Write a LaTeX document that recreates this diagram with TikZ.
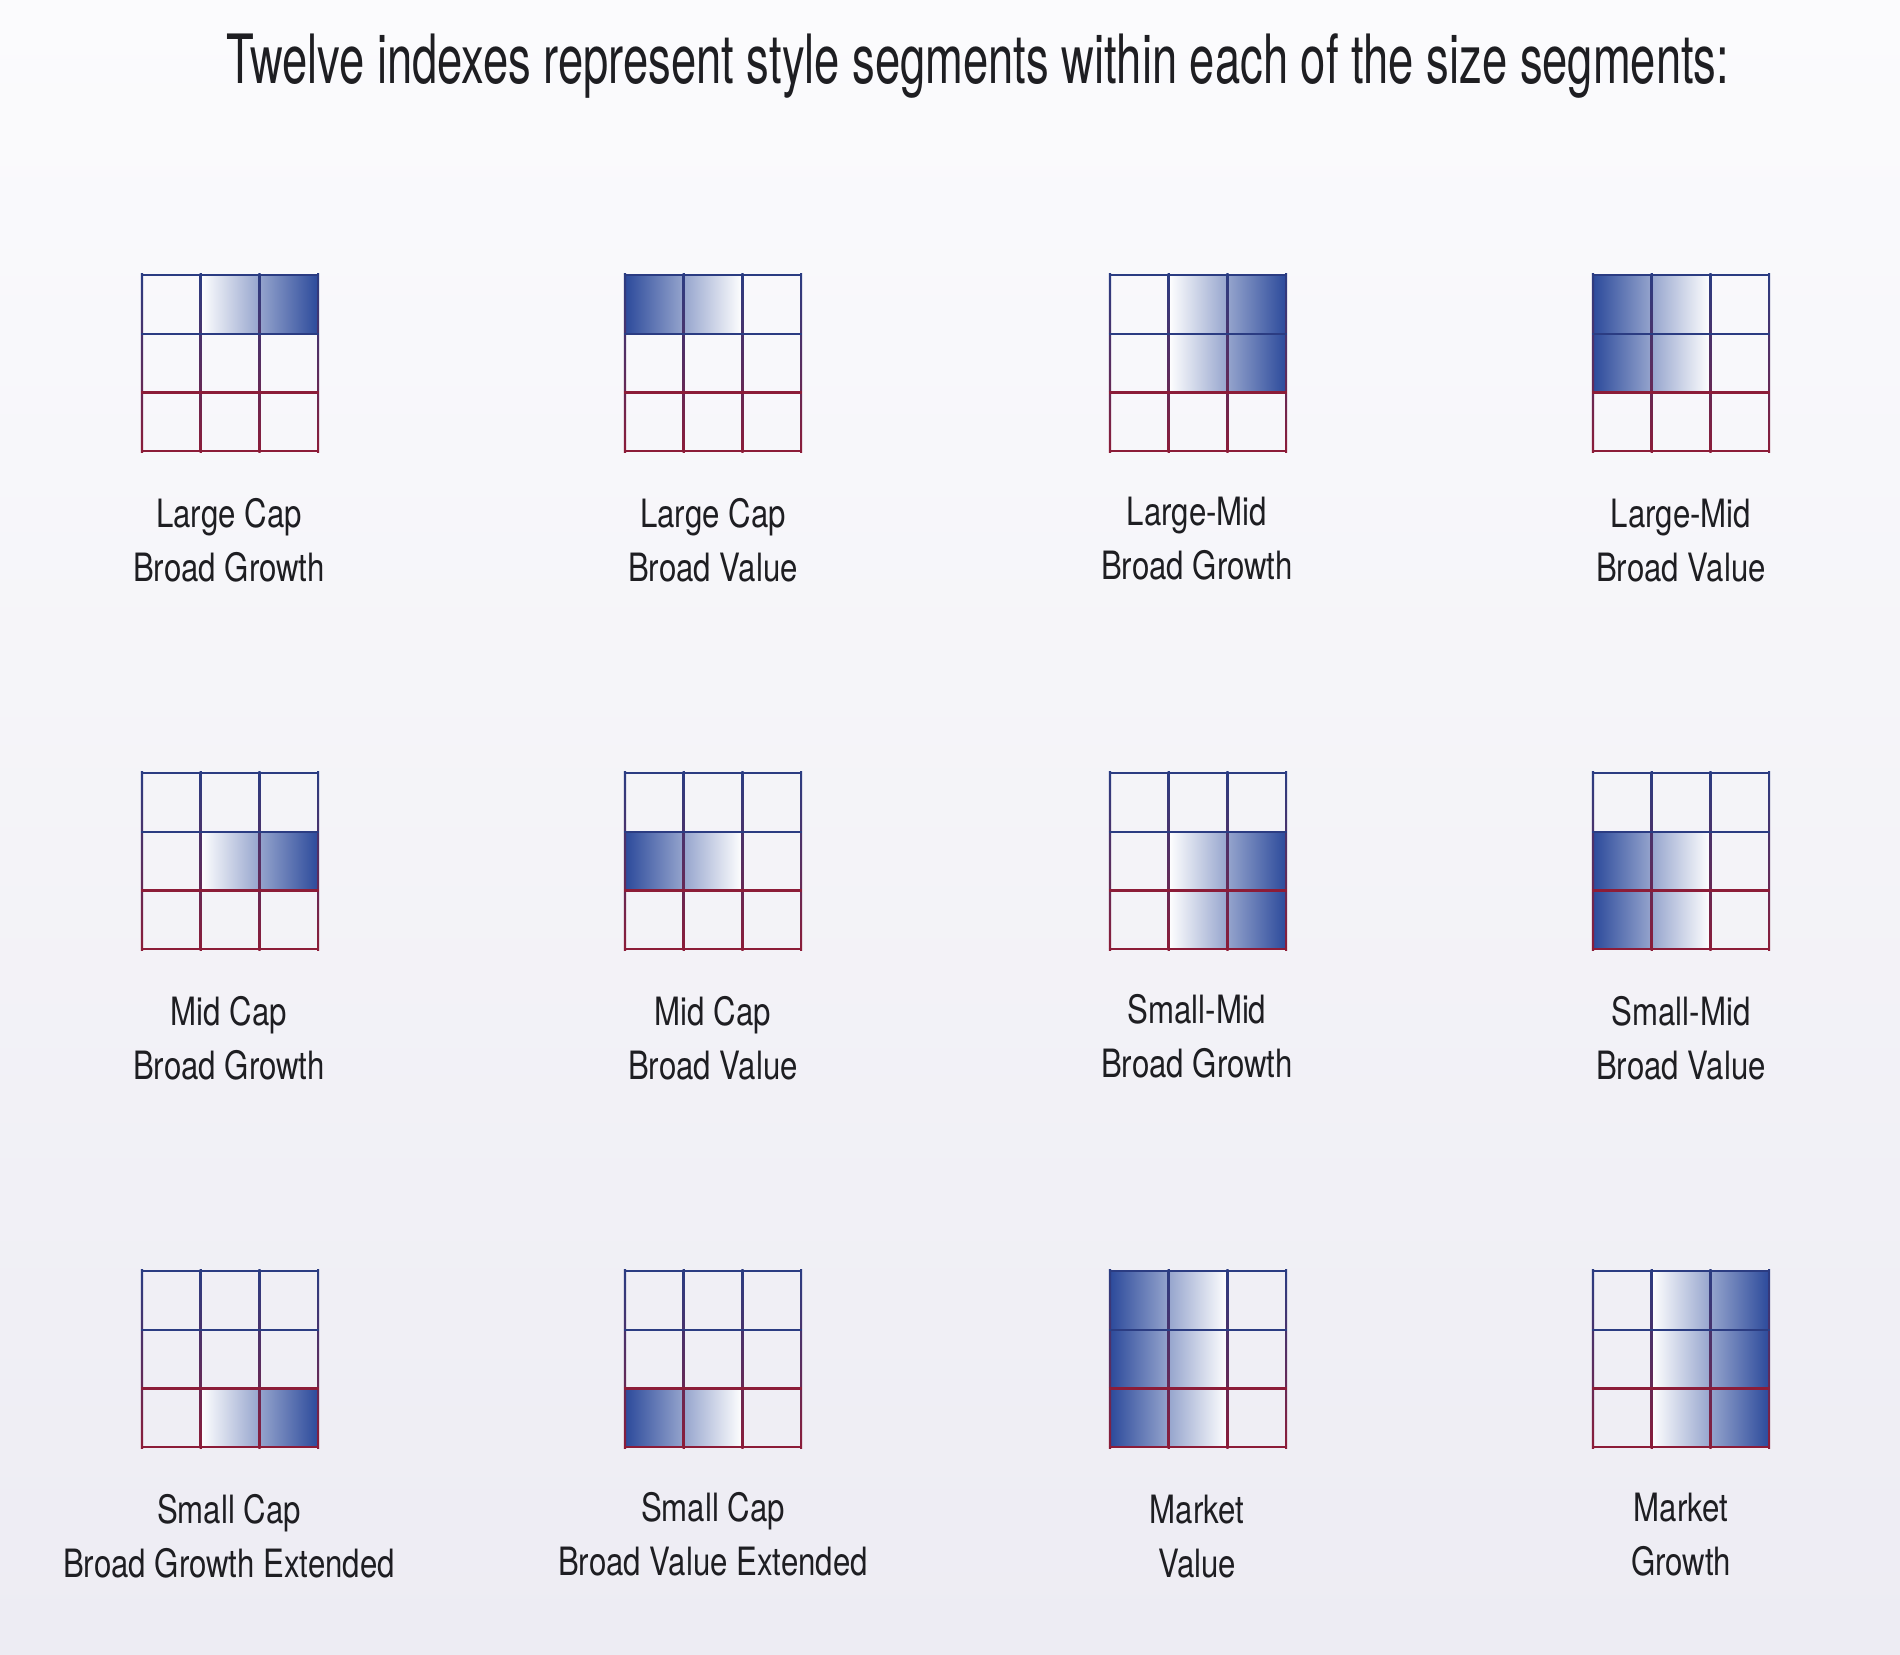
\documentclass[tikz,border=0pt]{standalone}
\usepackage{fontspec}
\setmainfont{TeX Gyre Heros}
\newfontfamily\labfont[FakeStretch=0.80]{TeX Gyre Heros}
\newfontfamily\ttlfont[FakeStretch=0.667]{TeX Gyre Heros}
\definecolor{bgtop}{HTML}{FBFBFD}
\definecolor{bgbot}{HTML}{EDECF3}
\definecolor{lblue}{HTML}{2B3C82}
\definecolor{lred}{HTML}{8C1C38}
\definecolor{fblue}{HTML}{2C4A9B}
\definecolor{txt}{HTML}{1E1E22}
\def\cs{58.7}
\newcommand\sgrid[5]{%
 \begin{scope}[shift={(#1,#2)}]
  \if g#5
   \shade[left color=white,right color=fblue] (\cs,#3*\cs) rectangle (3*\cs,#4*\cs+\cs);
  \else
   \shade[left color=fblue,right color=white] (0,#3*\cs) rectangle (2*\cs,#4*\cs+\cs);
  \fi
  \foreach \i in {0,1,2,3}{
   \shade[top color=lblue,bottom color=lred,middle color=lblue!55!lred] (\i*\cs-1.1,-1.1) rectangle (\i*\cs+1.1,3*\cs+1.1);
  }
  \draw[hline,lblue] (-1.1,0) -- (3*\cs+1.1,0);
  \draw[hline,lblue] (-1.1,\cs) -- (3*\cs+1.1,\cs);
  \draw[hline,lred] (-1.1,2*\cs) -- (3*\cs+1.1,2*\cs);
  \draw[hline,lred] (-1.1,3*\cs) -- (3*\cs+1.1,3*\cs);
 \end{scope}}
\begin{document}
\begin{tikzpicture}[x=1pt,y=-1pt,
  hline/.style={line width=2.2pt},
  lab/.style={anchor=base,inner sep=0pt,text=txt,font=\labfont\fontsize{39}{46}\selectfont},
  ttl/.style={anchor=base,inner sep=0pt,text=txt,font=\ttlfont\fontsize{68}{80}\selectfont}]
\shade[top color=bgtop,bottom color=bgbot] (0,0) rectangle (1900,1654);
\useasboundingbox (0,0) rectangle (1900,1654);
\node[ttl] (title) at (978,84) {Twelve indexes represent style segments within each of the size segments:};
% row 1
\sgrid{142}{275}{0}{0}{g}
\sgrid{625}{275}{0}{0}{v}
\sgrid{1110}{275}{0}{1}{g}
\sgrid{1593}{275}{0}{1}{v}
% row 2
\sgrid{142}{773}{1}{1}{g}
\sgrid{625}{773}{1}{1}{v}
\sgrid{1110}{773}{1}{2}{g}
\sgrid{1593}{773}{1}{2}{v}
% row 3
\sgrid{142}{1271}{2}{2}{g}
\sgrid{625}{1271}{2}{2}{v}
\sgrid{1110}{1271}{0}{2}{v}
\sgrid{1593}{1271}{0}{2}{g}
% labels
\node[lab] (a1) at (229,527) {Large Cap};
\node[lab] (a2) at (229,581) {Broad Growth};
\node[lab] (b1) at (713,527) {Large Cap};
\node[lab] (b2) at (713,581) {Broad Value};
\node[lab] (c1) at (1197,525) {Large-Mid};
\node[lab] (c2) at (1197,579) {Broad Growth};
\node[lab] (d1) at (1681,527) {Large-Mid};
\node[lab] (d2) at (1681,581) {Broad Value};
\node[lab] (e1) at (229,1025) {Mid Cap};
\node[lab] (e2) at (229,1079) {Broad Growth};
\node[lab] (f1) at (713,1025) {Mid Cap};
\node[lab] (f2) at (713,1079) {Broad Value};
\node[lab] (g1) at (1197,1023) {Small-Mid};
\node[lab] (g2) at (1197,1077) {Broad Growth};
\node[lab] (h1) at (1681,1025) {Small-Mid};
\node[lab] (h2) at (1681,1079) {Broad Value};
\node[lab] (i1) at (229,1523) {Small Cap};
\node[lab] (i2) at (229,1577) {Broad Growth Extended};
\node[lab] (j1) at (713,1521) {Small Cap};
\node[lab] (j2) at (713,1575) {Broad Value Extended};
\node[lab] (k1) at (1197,1523) {Market};
\node[lab] (k2) at (1197,1577) {Value};
\node[lab] (l1) at (1681,1521) {Market};
\node[lab] (l2) at (1681,1575) {Growth};
\end{tikzpicture}
\end{document}
